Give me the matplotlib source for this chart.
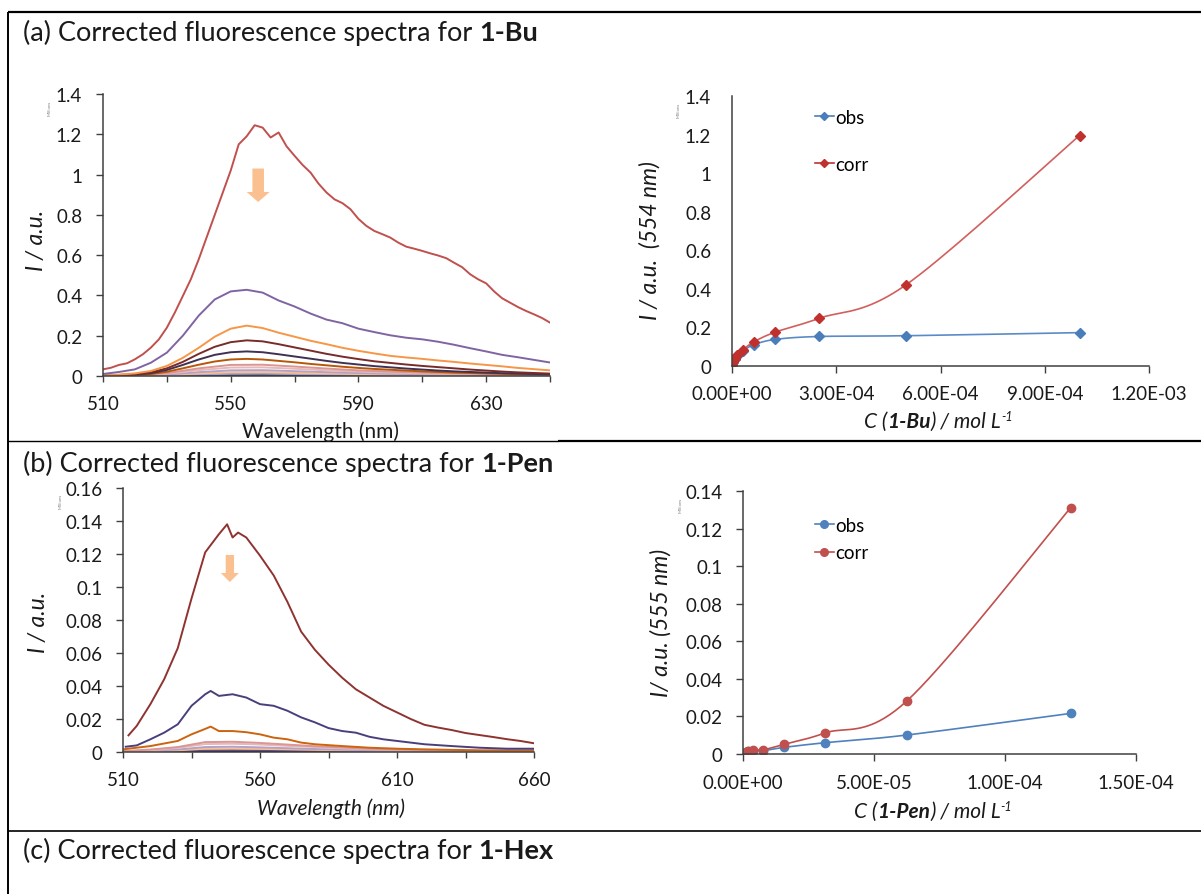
import matplotlib
matplotlib.use("Agg")
import matplotlib.pyplot as plt
import numpy as np
from matplotlib.lines import Line2D
from matplotlib.patches import FancyArrowPatch, ArrowStyle

plt.rcParams['font.family'] = ['Lato', 'DejaVu Sans']

W, H = 1201, 895

# ---------------- (a) 1-Bu spectra ----------------
wl_a_fine = np.arange(510, 650.1, 2.5)
wl_a = np.arange(510, 650.1, 5)
wl_a_coarse = np.arange(510, 650.1, 10)

bu_red = [.033, .041, .055, .063, .083, .108, .141, .182, .24, .315, .397, .48, .58, .69,
          .80, .91, 1.02, 1.15, 1.19, 1.245, 1.233, 1.184, 1.209, 1.14, 1.093, 1.048,
          1.01, .955, .911, .877, .858, .828, .78, .745, .72, .704, .687, .662, .642, .632,
          .621, .609, .598, .585, .562, .54, .505, .48, .46, .42, .386, .364, .342, .323,
          .306, .288, .265]
bu_purple = [.01, .02, .033, .066, .116, .2, .3, .38, .42, .428, .414, .375, .345, .31, .28,
             .262, .235, .218, .202, .19, .182, .17, .155, .138, .122, .105, .093, .08, .067]
bu_orange = [.004, .007, .013, .025, .05, .09, .14, .195, .235, .25, .238, .215, .195, .175,
             .158, .14, .125, .112, .1, .092, .085, .077, .07, .062, .055, .048, .04, .034, .028]
bu_maroon = [.003, .005, .009, .018, .038, .07, .11, .145, .168, .177, .172, .158, .142, .126,
             .11, .096, .084, .073, .065, .057, .05, .044, .038, .032, .027, .022, .018, .015, .012]
bu_navy = [.002, .004, .007, .014, .03, .055, .082, .105, .118, .122, .118, .108, .097, .086,
           .075, .065, .057, .049, .043, .037, .032, .027, .023, .02, .017, .014, .012, .01, .008]
bu_brown = [.002, .003, .005, .01, .021, .038, .056, .072, .082, .085, .082, .075, .068, .06,
            .053, .046, .04, .035, .031, .027, .023, .02, .017, .015, .013, .011, .009, .008, .007]
bu_pink = [.001, .004, .014, .038, .055, .056, .047, .037, .028, .022, .017, .013, .01, .007, .006]
bu_rose = [.001, .003, .011, .029, .042, .043, .036, .028, .022, .017, .013, .01, .008, .006, .005]
bu_lilac = [.001, .002, .007, .019, .028, .029, .024, .019, .015, .011, .009, .007, .005, .004, .003]
bu_peach = [0, .001, .005, .013, .019, .02, .016, .013, .01, .008, .006, .005, .004, .003, .002]
bu_grey = [0, .001, .003, .008, .011, .012, .01, .008, .006, .005, .004, .003, .002, .002, .001]
bu_dark = [0, 0, .001, .003, .005, .005, .004, .003, .003, .002, .002, .001, .001, .001, .001]

# (a) intensity at 554 nm vs concentration
bu_conc = [0, 3.9e-6, 7.8e-6, 1.56e-5, 3.13e-5, 6.25e-5, 1.25e-4, 2.5e-4, 5e-4, 1e-3]
bu_obs = [0.005, 0.02, 0.034, 0.053, 0.078, 0.11, 0.138, 0.153, 0.157, 0.173]
bu_corr = [0.005, 0.02, 0.035, 0.057, 0.083, 0.125, 0.176, 0.247, 0.42, 1.195]

# ---------------- (b) 1-Pen spectra ----------------
wl_pen_maroon = [512, 515, 520, 525, 530, 535, 540, 545, 548, 550, 552, 555, 560, 565, 570,
                 575, 580, 585, 590, 595, 600, 605, 610, 615, 620, 625, 630, 635, 640, 645,
                 650, 655, 660]
pen_maroon = [.0101, .0158, .029, .044, .063, .093, .121, .132, .138, .130, .133, .130, .119,
              .107, .091, .073, .062, .053, .045, .038, .033, .028, .024, .020, .0165, .0148,
              .0133, .0115, .0103, .0091, .0078, .0067, .0053]
wl_pen_navy = [511, 515, 520, 525, 530, 535, 540, 542, 545, 550, 555, 560, 565, 570, 575, 580,
               585, 590, 595, 600, 605, 610, 615, 620, 630, 640, 650, 660]
pen_navy = [.0032, .004, .0077, .0117, .0168, .028, .035, .037, .034, .035, .033, .029, .028,
            .025, .021, .018, .0145, .0127, .0117, .0092, .0077, .0067, .0057, .0047, .0036,
            .0026, .002, .002]
wl_pen_orange = [510, 520, 530, 535, 540, 542, 545, 550, 555, 560, 565, 570, 575, 580, 590,
                 600, 610, 620, 640, 660]
pen_orange = [.0016, .0036, .0067, .0107, .014, .0154, .0127, .0127, .012, .0107, .0087, .0077,
              .0057, .0047, .0036, .0026, .002, .0016, .001, .001]
wl_pen_coarse = np.arange(510, 660.1, 10)
pen_pink = [.0005, .0015, .003, .006, .0062, .0055, .0045, .0035, .0028, .002, .0015, .0012, .001, .0008, .0006, .0005]
pen_rose = [.0004, .001, .0025, .0048, .005, .0045, .0037, .003, .0022, .0017, .0013, .001, .0008, .0006, .0005, .0004]
pen_lilac = [.0003, .0008, .0015, .003, .0032, .0028, .0023, .0018, .0014, .0011, .0009, .0007, .0005, .0004, .0003, .0003]
pen_peach = [.0002, .0005, .001, .002, .0021, .0019, .0016, .0013, .001, .0008, .0006, .0005, .0004, .0003, .0002, .0002]
pen_purple = [.0002, .0003, .0006, .001, .0011, .001, .0008, .0007, .0005, .0004, .0003, .0003, .0002, .0002, .0001, .0001]
pen_black = [0, 0, .0002, .0004, .0004, .0004, .0003, .0002, .0001, .0001, 0, 0, 0, 0, 0, 0]

# (b) intensity at 555 nm vs concentration
pen_conc = [9.8e-7, 1.95e-6, 3.9e-6, 7.8e-6, 1.56e-5, 3.13e-5, 6.25e-5, 1.25e-4]
pen_obs = [0.0008, 0.0015, 0.0018, 0.0018, 0.0035, 0.006, 0.0101, 0.0216]
pen_corr = [0.0008, 0.0018, 0.0023, 0.0023, 0.0051, 0.0112, 0.0282, 0.131]

# tick labels
a_spec_yticks = ['0', '0.2', '0.4', '0.6', '0.8', '1', '1.2', '1.4']
b_spec_yticks = ['0', '0.02', '0.04', '0.06', '0.08', '0.1', '0.12', '0.14', '0.16']
b_conc_yticks = ['0', '0.02', '0.04', '0.06', '0.08', '0.1', '0.12', '0.14']
a_conc_xticks = ['0.00E+00', '3.00E-04', '6.00E-04', '9.00E-04', '1.20E-03']
b_conc_xticks = ['0.00E+00', '5.00E-05', '1.00E-04', '1.50E-04']

TXT = '#1a1a1a'
AXC = '#404040'
TICK_FS = 13.5

fig = plt.figure(figsize=(W / 100, H / 100), dpi=100)


def make_axes(x0, x1, ytop, ybot):
    ax = fig.add_axes([x0 / W, 1 - ybot / H, (x1 - x0) / W, (ybot - ytop) / H])
    ax.patch.set_alpha(0)
    for s in ['top', 'right']:
        ax.spines[s].set_visible(False)
    for s in ['left', 'bottom']:
        ax.spines[s].set_color(AXC)
        ax.spines[s].set_linewidth(1.1)
    ax.tick_params(direction='out', colors=AXC, labelcolor=TXT, labelsize=TICK_FS, width=1)
    return ax


def smooth(ax, x, y, steps=20):
    # Excel style smoothed line, Catmull-Rom through the points in display space
    pts = ax.transData.transform(np.column_stack([x, y]))
    p = np.vstack([pts[0], pts, pts[-1]])
    out = []
    t = np.linspace(0, 1, steps, endpoint=False)[:, None]
    for i in range(1, len(p) - 2):
        p0, p1, p2, p3 = p[i - 1], p[i], p[i + 1], p[i + 2]
        out.append(0.5 * (2 * p1 + (-p0 + p2) * t + (2 * p0 - 5 * p1 + 4 * p2 - p3) * t ** 2
                          + (-p0 + 3 * p1 - 3 * p2 + p3) * t ** 3))
    out.append(pts[-1][None, :])
    xy = ax.transData.inverted().transform(np.vstack(out))
    return xy[:, 0], xy[:, 1]


def rich(x, y, parts, ha='center'):
    # several text pieces with different styles on one baseline (pixel coords)
    r = fig.canvas.get_renderer()

    def adv(s, kw):
        t1 = fig.text(0, 0, s + '|', **kw)
        t2 = fig.text(0, 0, '|', **kw)
        w = t1.get_window_extent(r).width - t2.get_window_extent(r).width
        t1.remove()
        t2.remove()
        return w

    advs = [adv(s, kw) for s, kw, rise in parts]
    cur = x - sum(advs) / 2 if ha == 'center' else x
    for (s, kw, rise), a in zip(parts, advs):
        fig.text(cur / W, 1 - (y - rise) / H, s, va='baseline', ha='left', color=TXT, **kw)
        cur += a


def fig_line(x0, x1, y0, y1, lw):
    fig.add_artist(Line2D([x0 / W, x1 / W], [1 - y0 / H, 1 - y1 / H], color='black', lw=lw,
                          transform=fig.transFigure, solid_capstyle='butt'))


# table borders
fig_line(8, W, 13, 13, 1.6)
fig_line(8, 8, 13, H, 1.4)
fig_line(8, 558, 441.5, 441.5, 1.0)
fig_line(558, W, 441.5, 441.5, 1.6)
fig_line(8, W, 832, 832, 1.2)

# titles
TFS = 19.5
for ytxt, lab, comp in [(41, '(a) ', '1-Bu'), (472, '(b) ', '1-Pen'), (859, '(c) ', '1-Hex')]:
    rich(23, ytxt, [(lab + 'Corrected fluorescence spectra for ', dict(fontsize=TFS), 0),
                    (comp, dict(fontsize=TFS, weight='bold'), 0)], ha='left')

# ---------- (a) left: spectra ----------
ax1 = make_axes(103, 550, 95, 377)
ax1.set_xlim(510, 650)
ax1.set_ylim(0, 1.4)
for wl, vals, c in [(wl_a_coarse, bu_dark, '#3b3b55'), (wl_a_coarse, bu_grey, '#a9a3cc'),
                    (wl_a_coarse, bu_peach, '#fac090'), (wl_a_coarse, bu_lilac, '#b3a2c7'),
                    (wl_a_coarse, bu_rose, '#e6b9b8'), (wl_a_coarse, bu_pink, '#d99694'),
                    (wl_a, bu_brown, '#b65708'), (wl_a, bu_navy, '#403152'),
                    (wl_a, bu_maroon, '#772c2a'), (wl_a, bu_orange, '#f79646'),
                    (wl_a, bu_purple, '#8064a2'), (wl_a_fine, bu_red, '#c0504d')]:
    ax1.plot(wl, vals, color=c, lw=1.4)
ax1.set_xticks(np.arange(510, 651, 20))
ax1.set_xticklabels([str(v) if (v - 510) % 40 == 0 else '' for v in range(510, 651, 20)])
ax1.set_yticks(np.arange(0, 1.41, 0.2))
ax1.set_yticklabels(a_spec_yticks)
ax1.tick_params(axis='x', length=4.5, pad=9)
ax1.tick_params(axis='y', length=5, pad=10)
ax1.add_patch(FancyArrowPatch((558.6, 1.03), (558.6, 0.864), mutation_scale=1,
                              arrowstyle=ArrowStyle('Simple', head_length=7.2, head_width=16.6, tail_width=8.3),
                              color='#fac090', lw=0, shrinkA=0, shrinkB=0))

# ---------- (a) right: intensity vs concentration ----------
ax2 = make_axes(732, 1149, 97, 367)
ax2.set_xlim(0, 1.2e-3)
ax2.set_ylim(0, 1.4)
ax2.set_xticks(np.linspace(0, 1.2e-3, 5))
ax2.set_xticklabels(a_conc_xticks)
ax2.set_yticks(np.arange(0, 1.41, 0.2))
ax2.set_yticklabels(a_spec_yticks)
ax2.tick_params(axis='x', length=5, pad=9)
ax2.tick_params(axis='y', length=0, pad=15)
for vals, mc, lc in [(bu_obs, '#4a7ebb', '#5b8bc6'), (bu_corr, '#c0302d', '#d0605d')]:
    sx, sy = smooth(ax2, bu_conc, vals)
    ax2.plot(sx, sy, color=lc, lw=1.2)
    ax2.plot(bu_conc, vals, ls='none', marker='D', ms=5, color=mc)
hA = [Line2D([], [], color='#4a7ebb', lw=1.2, marker='D', ms=4.5),
      Line2D([], [], color='#c0302d', lw=1.2, marker='D', ms=4.5)]
ax2.legend(hA, ['obs', 'corr'], loc='upper left', bbox_to_anchor=(815 / W, 1 - 110 / H),
           bbox_transform=fig.transFigure, frameon=False, borderpad=0, borderaxespad=0,
           handlelength=1.0, handletextpad=0.1, labelspacing=1.6, fontsize=13.5, numpoints=1)

# ---------- (b) left: spectra ----------
ax3 = make_axes(123, 534, 489, 753)
ax3.set_xlim(510, 660)
ax3.set_ylim(0, 0.16)
for wl, vals, c in [(wl_pen_coarse, pen_black, '#111111'), (wl_pen_coarse, pen_purple, '#5f4b8b'),
                    (wl_pen_coarse, pen_peach, '#fac090'), (wl_pen_coarse, pen_lilac, '#b3a2c7'),
                    (wl_pen_coarse, pen_rose, '#e6b9b8'), (wl_pen_coarse, pen_pink, '#d99694'),
                    (wl_pen_orange, pen_orange, '#cc630f'), (wl_pen_navy, pen_navy, '#4a3f7c'),
                    (wl_pen_maroon, pen_maroon, '#8e3330')]:
    ax3.plot(wl, vals, color=c, lw=1.4)
ax3.set_xticks(np.arange(510, 661, 25))
ax3.set_xticklabels([str(v) if (v - 510) % 50 == 0 else '' for v in range(510, 661, 25)])
ax3.set_yticks(np.arange(0, 0.161, 0.02))
ax3.set_yticklabels(b_spec_yticks)
ax3.tick_params(axis='x', length=4.5, pad=9)
ax3.tick_params(axis='y', length=5, pad=9.5)
ax3.add_patch(FancyArrowPatch((549, 0.1194), (549, 0.103), mutation_scale=1,
                              arrowstyle=ArrowStyle('Simple', head_length=6.5, head_width=13, tail_width=6),
                              color='#fac090', lw=0, shrinkA=0, shrinkB=0))

# ---------- (b) right: intensity vs concentration ----------
ax4 = make_axes(743, 1136, 492, 755)
ax4.set_xlim(0, 1.5e-4)
ax4.set_ylim(0, 0.14)
ax4.set_xticks(np.linspace(0, 1.5e-4, 4))
ax4.set_xticklabels(b_conc_xticks)
ax4.set_yticks(np.arange(0, 0.141, 0.02))
ax4.set_yticklabels(b_conc_yticks)
ax4.tick_params(axis='x', length=5, pad=9.5)
ax4.tick_params(axis='y', length=5, pad=9.5)
for vals, c in [(pen_obs, '#4f81bd'), (pen_corr, '#c0504d')]:
    sx, sy = smooth(ax4, pen_conc, vals)
    ax4.plot(sx, sy, color=c, lw=1.2)
    ax4.plot(pen_conc, vals, ls='none', marker='o', ms=6, color=c)
hB = [Line2D([], [], color='#4f81bd', lw=1.2, marker='o', ms=5.5),
      Line2D([], [], color='#c0504d', lw=1.2, marker='o', ms=5.5)]
ax4.legend(hB, ['obs', 'corr'], loc='upper left', bbox_to_anchor=(815 / W, 1 - 518 / H),
           bbox_transform=fig.transFigure, frameon=False, borderpad=0, borderaxespad=0,
           handlelength=1.0, handletextpad=0.1, labelspacing=0.55, fontsize=13.5, numpoints=1)

# axis titles
LFS = 15
it = dict(fontsize=LFS, style='italic')
fig.text(321 / W, 1 - 438 / H, 'Wavelength (nm)', ha='center', va='baseline', fontsize=LFS, color=TXT)
fig.text(331 / W, 1 - 815 / H, 'Wavelength (nm)', ha='center', va='baseline', color=TXT, **it)
rich(938, 428, [('C (', it, 0), ('1-Bu', dict(it, weight='bold'), 0), (') / mol L', it, 0),
                ('-1', dict(fontsize=9, style='italic'), 7)])
rich(933, 818, [('C (', it, 0), ('1-Pen', dict(it, weight='bold'), 0), (') / mol L', it, 0),
                ('-1', dict(fontsize=9, style='italic'), 7)])
for x, y, s in [(36, 240, 'I / a.u.'), (650, 241, 'I / a.u.  (554 nm)'),
                (38, 622, 'I / a.u.'), (661, 623, 'I/ a.u. (555 nm)')]:
    fig.text(x / W, 1 - y / H, s, rotation=90, ha='center', va='center', color=TXT,
             fontsize=16.5, style='italic')

# the little "Millions" unit tags
for x, y in [(50, 108), (679, 110), (61, 501), (681, 505)]:
    fig.text(x / W, 1 - y / H, 'Millions', rotation=90, ha='center', va='center',
             fontsize=3.2, color='#808080')

fig.savefig('out.png', dpi=100)
